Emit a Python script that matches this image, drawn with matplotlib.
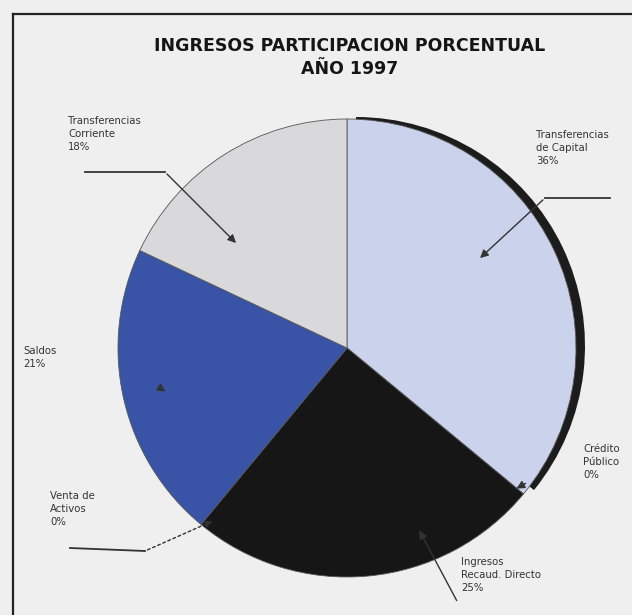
import matplotlib
matplotlib.use("Agg")
import matplotlib.pyplot as plt
from matplotlib.patches import Wedge

# Data (clockwise from 12 o'clock)
categories = ["Transferencias\nde Capital", "Crédito\nPúblico", "Ingresos\nRecaud. Directo",
              "Venta de\nActivos", "Saldos", "Transferencias\nCorriente"]
values = [36, 0, 25, 0, 21, 18]
colors = ["#cad2ec", "#1a1a1a", "#161616", "#1a1a1a", "#3953a6", "#d9d9db"]

W, H = 632, 615
fig = plt.figure(figsize=(W / 100, H / 100), dpi=100)
fig.patch.set_facecolor("#efefef")
ax = fig.add_axes([0, 0, 1, 1])

def py(y):
    return H - y

cx, cy, r = 347, py(348), 229

# shadow rim (right side only)
ax.add_patch(Wedge((cx + 9, cy + 2), r, -39, 90, facecolor="#1c1c1c", edgecolor="none", zorder=1))

wedges, _ = ax.pie(values, colors=colors, startangle=90, counterclock=False,
                   center=(cx, cy), radius=r, frame=True,
                   wedgeprops=dict(linewidth=0.6, edgecolor="#555555", zorder=2))
ax.set_xlim(0, W)
ax.set_ylim(0, H)
ax.set_aspect("equal")
ax.axis("off")

# frame lines
ax.plot([13, 13], [py(14), py(H + 5)], color="#222222", lw=1.6, zorder=5)
ax.plot([13, W + 5], [py(14), py(14)], color="#222222", lw=1.6, zorder=5)

# title
ax.text(350, py(46), "INGRESOS PARTICIPACION PORCENTUAL", ha="center", va="center",
        fontsize=12.5, fontweight="bold", color="#151515", family="DejaVu Sans", zorder=6)
ax.text(350, py(69), "AÑO 1997", ha="center", va="center",
        fontsize=12.5, fontweight="bold", color="#151515", family="DejaVu Sans", zorder=6)

tkw = dict(fontsize=7.3, color="#333333", linespacing=1.4, zorder=6, va="top", ha="left")
akw = dict(arrowstyle="-|>", color="#333333", lw=1.0, mutation_scale=12)

labels = [f"{c}\n{v}%" for c, v in zip(categories, values)]

# Transferencias de Capital
ax.text(536, py(130), labels[0], **tkw)
ax.plot([610, 545], [py(198), py(198)], color="#333333", lw=1.3, zorder=6)
ax.annotate("", xy=(478, py(260)), xytext=(545, py(198)), arrowprops=akw, zorder=6)

# Credito Publico
ax.text(583, py(444), labels[1], **tkw)
ax.annotate("", xy=(514, py(490)), xytext=(528, py(482)), arrowprops=akw, zorder=6)

# Ingresos Recaud. Directo
ax.text(461, py(557), labels[2], **tkw)
ax.annotate("", xy=(418, py(528)), xytext=(458, py(603)), arrowprops=akw, zorder=6)

# Venta de Activos
ax.text(50, py(491), labels[3], **tkw)
ax.plot([70, 145], [py(548), py(551)], color="#333333", lw=1.3, zorder=6)
ax.annotate("", xy=(215, py(520)), xytext=(145, py(551)),
            arrowprops=dict(arrowstyle="-|>", color="#333333", lw=1.0, linestyle=(0, (2, 2)),
                            mutation_scale=10), zorder=6)

# Saldos
ax.text(23, py(346), labels[4], **tkw)
ax.annotate("", xy=(168, py(393)), xytext=(160, py(388)), arrowprops=akw, zorder=6)

# Transferencias Corriente
ax.text(68, py(116), labels[5], **tkw)
ax.plot([85, 165], [py(172), py(172)], color="#333333", lw=1.3, zorder=6)
ax.annotate("", xy=(238, py(245)), xytext=(165, py(172)), arrowprops=akw, zorder=6)

fig.savefig("out.png", dpi=100, facecolor=fig.get_facecolor())
